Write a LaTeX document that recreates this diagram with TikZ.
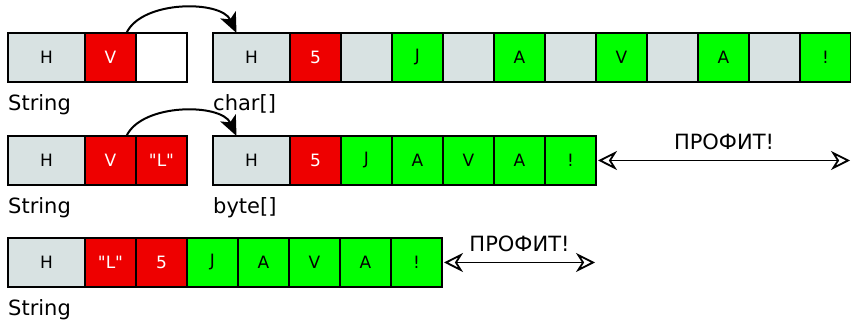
\documentclass[tikz,border=0pt]{standalone}
\usepackage{fontspec}
\setmainfont{DejaVu Sans}
\newfontfamily\cellfont{DejaVu Sans}
\usetikzlibrary{positioning,arrows.meta}

\definecolor{cellgray}{RGB}{216,226,226}
\definecolor{cellred}{RGB}{238,0,0}
\definecolor{cellgreen}{RGB}{0,255,0}

\tikzset{
  cell/.style={draw, line width=2pt, minimum width=51pt, minimum height=49pt,
    inner sep=0pt, outer sep=0pt, font=\cellfont\fontsize{17}{20}\selectfont},
  head/.style={cell, fill=cellgray, minimum width=77pt},
  gr/.style={fill=cellgray},
  rd/.style={fill=cellred, text=white},
  gn/.style={fill=cellgreen},
  wt/.style={fill=white},
  tag/.style={anchor=north west, inner sep=0pt, font=\fontsize{21}{21}\selectfont},
  link/.style={-{Stealth[length=20pt,width=17pt,inset=5pt]}, line width=2pt},
  profit/.style={{Stealth[open,length=19pt,width=19pt,inset=6pt]}-{Stealth[open,length=19pt,width=19pt,inset=6pt]}, line width=1.8pt},
}
\newcommand{\qL}{"L"}

\begin{document}
\begin{tikzpicture}[x=1pt,y=1pt]
  \useasboundingbox (0,0) rectangle (851,320);
  % String + char[]
  \node[head] (s1h) at (46.5,262.5) {H};
  \node[cell,rd,right=0pt of s1h] (s1v) {V};
  \node[cell,wt,right=0pt of s1v] (s1e) {};
  \node[head] (c0) at (251.5,262.5) {H};
  \foreach \t/\s [count=\i, remember=\i as \j (initially 0)] in {5/rd, /gr, J/gn, /gr, A/gn, /gr, V/gn, /gr, A/gn, /gr, !/gn}
    \node[cell,\s,right=0pt of c\j] (c\i) {\t};
  \node[tag] (l1s) at ([yshift=-12pt]s1h.south west) {String};
  \node[tag] (l1c) at ([yshift=-12pt]c0.south west) {char[]};
  \draw[link] ([xshift=16pt]s1v.north) to[out=65,in=115,looseness=0.85] ([xshift=-15pt]c0.north);

  % String + byte[]
  \node[head] (s2h) at (46.5,159.5) {H};
  \node[cell,rd,right=0pt of s2h] (s2v) {V};
  \node[cell,rd,right=0pt of s2v] (s2l) {\qL};
  \node[head] (b0) at (251.5,159.5) {H};
  \foreach \t/\s [count=\i, remember=\i as \j (initially 0)] in {5/rd, J/gn, A/gn, V/gn, A/gn, !/gn}
    \node[cell,\s,right=0pt of b\j] (b\i) {\t};
  \node[tag] (l2s) at ([yshift=-12pt]s2h.south west) {String};
  \node[tag] (l2b) at ([yshift=-12pt]b0.south west) {byte[]};
  \draw[link] ([xshift=16pt]s2v.north) to[out=65,in=115,looseness=0.85] ([xshift=-15pt]b0.north);
  \coordinate (p2) at ([xshift=254pt]b6.east);
  \draw[profit] ([xshift=2pt]b6.east) -- (p2)
    node[midway, above=10pt, inner sep=0pt, font=\fontsize{21}{21}\selectfont] (t2) {ПРОФИТ!};

  % compact String
  \node[head] (r0) at (46.5,57.5) {H};
  \foreach \t/\s [count=\i, remember=\i as \j (initially 0)] in {\qL/rd, 5/rd, J/gn, A/gn, V/gn, A/gn, !/gn}
    \node[cell,\s,right=0pt of r\j] (r\i) {\t};
  \node[tag] (l3s) at ([yshift=-12pt]r0.south west) {String};
  \coordinate (p3) at ([xshift=153pt]r7.east);
  \draw[profit] ([xshift=2pt]r7.east) -- (p3)
    node[midway, above=10pt, inner sep=0pt, font=\fontsize{21}{21}\selectfont] (t3) {ПРОФИТ!};
\end{tikzpicture}
\end{document}
